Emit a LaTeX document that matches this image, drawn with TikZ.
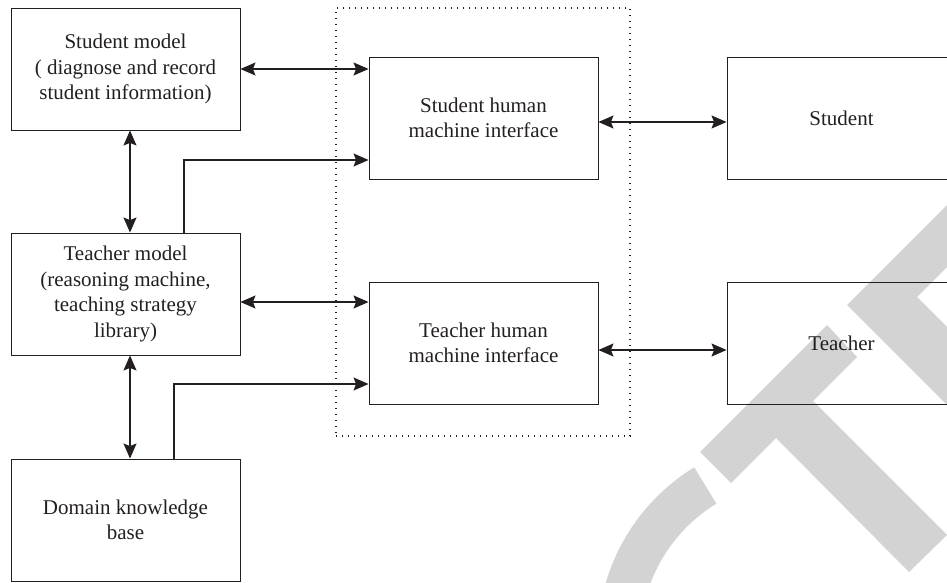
\documentclass[tikz,border=0pt]{standalone}
\usepackage{fontspec}
\setmainfont{Liberation Serif}
\usetikzlibrary{arrows.meta,calc}
\definecolor{ink}{HTML}{231F20}
\definecolor{wm}{HTML}{D3D3D3}
\begin{document}
\begin{tikzpicture}[x=1pt,y=1pt,
  >={Stealth[length=15pt,width=13pt,inset=2.5pt]},
  blk/.style={draw=ink, line width=0.9pt, minimum width=229pt, minimum height=122pt,
    inner sep=0pt, align=center, text=ink, font=\fontsize{21}{25.5}\selectfont},
  conn/.style={draw=ink, line width=1.1pt, ->},
  biconn/.style={draw=ink, line width=1.1pt, <->},
  grpbox/.style={draw=ink, line width=1.1pt, dash pattern=on 1.2pt off 4.8pt,
    minimum width=294pt, minimum height=428pt, inner sep=0pt}]
\useasboundingbox (0,0) rectangle (947,582);
\begin{scope}
\clip (0,0) rectangle (947,582);
% watermark
\fill[wm] (700,130) -- (827,257) -- (857,225) -- (813,181) -- (947,47) -- (909,10)
  -- (776,144) -- (731,99) -- cycle;
\fill[wm] (847,277) -- (1000,430) -- (1000,368) -- (917,285) -- (1000,202) -- (1000,124) -- cycle;
\fill[wm] (800,-58) ++(121.5:202.5pt) arc[start angle=121.5, end angle=200, radius=202.5pt]
  -- ($(800,-58)+(200:160pt)$) arc[start angle=200, end angle=121.5, radius=160pt] -- cycle;
% group
\node[grpbox] (grp) at (483,360) {};
% blocks
\node[blk] (sm) at (125.5,513) {Student model\\( diagnose and record\\student information)};
\node[blk] (tm) at (125.5,288) {Teacher model\\(reasoning machine,\\teaching strategy\\library)};
\node[blk] (dkb) at (125.5,62) {Domain knowledge\\base};
\node[blk] (shmi) at (483.5,464) {Student human\\machine interface};
\node[blk] (thmi) at (483.5,239) {Teacher human\\machine interface};
\node[blk] (stu) at (841.5,464) {Student};
\node[blk] (tea) at (841.5,239) {Teacher};
% connectors
\draw[biconn] (sm.east) -- (sm.east -| shmi.west);
\draw[conn] ([xshift=58.5pt]tm.north) |- ([yshift=-42pt]shmi.west);
\draw[biconn] ([xshift=4.5pt]sm.south) -- ([xshift=4.5pt]tm.north);
\draw[biconn] ([yshift=-8pt]tm.east) -- ([yshift=-8pt]tm.east -| thmi.west);
\draw[conn] ([xshift=48.5pt]dkb.north) |- ([yshift=-41pt]thmi.west);
\draw[biconn] ([xshift=4.5pt]tm.south) -- ([xshift=4.5pt]dkb.north);
\draw[biconn] ([yshift=-4pt]shmi.east) -- ([yshift=-4pt]shmi.east -| stu.west);
\draw[biconn] ([yshift=-7pt]thmi.east) -- ([yshift=-7pt]thmi.east -| tea.west);
\end{scope}
\end{tikzpicture}
\end{document}
